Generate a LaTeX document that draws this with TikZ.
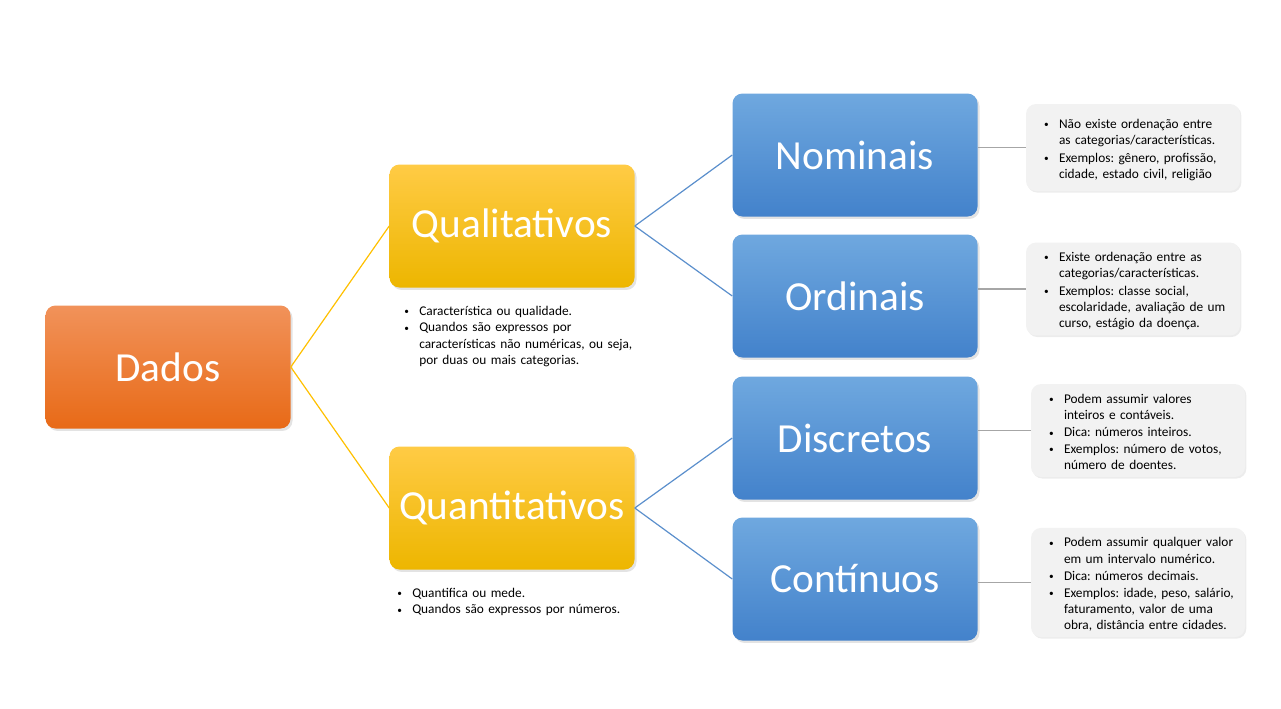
\documentclass[tikz,border=0pt]{standalone}
\usepackage{fontspec}
\setmainfont{Carlito}
\usetikzlibrary{positioning, shadows}
\definecolor{dadostop}{HTML}{F1925A}
\definecolor{dadosbot}{HTML}{E86A17}
\definecolor{tipotop}{HTML}{FFCB45}
\definecolor{tipobot}{HTML}{EDB600}
\definecolor{subtop}{HTML}{6FA8DF}
\definecolor{subbot}{HTML}{4382CB}
\definecolor{yellowline}{HTML}{FFC000}
\definecolor{blueline}{HTML}{5B8FCC}
\definecolor{grayline}{HTML}{A6A6A6}
\definecolor{notefill}{HTML}{F2F2F2}

% bullet item, continuation lines aligned with the text
\newcommand{\bul}[1]{\par\noindent\makebox[11.25pt][l]{\raisebox{0.6pt}{\fontsize{7pt}{7pt}\selectfont\textbullet}}%
    \begin{tabular}[t]{@{}l@{}}#1\end{tabular}}

\begin{document}
\frenchspacing
\begin{tikzpicture}[
    x=0.75pt, y=-0.75pt,
    font=\fontsize{10pt}{12.2pt}\selectfont,
    catbox/.style={
        rounded corners=7.5pt, minimum width=183.75pt, minimum height=92.25pt,
        text=white, font=\fontsize{31pt}{36pt}\selectfont, inner sep=0pt,
        drop shadow={opacity=0.22, shadow xshift=1.5pt, shadow yshift=-1.8pt},
    },
    dadosbox/.style={catbox, top color=dadostop, bottom color=dadosbot},
    tipobox/.style={catbox, top color=tipotop, bottom color=tipobot},
    subbox/.style={catbox, top color=subtop, bottom color=subbot},
    notebox/.style={
        fill=notefill, rounded corners=7.5pt, minimum width=160.5pt,
        text width=133.5pt, inner xsep=13.5pt, inner ysep=2pt, align=left,
        drop shadow={opacity=0.15, shadow xshift=1pt, shadow yshift=-1.2pt},
    },
    plainnote/.style={text width=190pt, inner sep=0pt, align=left},
    yellowlink/.style={draw=yellowline, line width=0.9pt},
    bluelink/.style={draw=blueline, line width=0.9pt},
    graylink/.style={draw=grayline, line width=0.9pt},
]
\useasboundingbox (0,0) rectangle (1281,708);

% Main boxes
\node[dadosbox] (dados) at (168,367) {Dados};
\node[tipobox] (qual) at (512,226) {Qualitativos};
\node[tipobox] (quant) at (512,508) {Quantitativos};
\node[subbox] (nom) at (855,155) {Nominais};
\node[subbox] (ord) at (855,296) {Ordinais};
\node[subbox] (disc) at (855,438) {Discretos};
\node[subbox] (cont) at (855,579) {Contínuos};

% Notes on the right
\node[notebox, minimum height=65.25pt] (nomnote) at (1133,147.5) {%
    \bul{Não existe ordenação entre\\as categorias/características.}
    \bul{Exemplos: gênero, profissão,\\cidade, estado civil, religião}};
\node[notebox, minimum height=64.5pt] (ordnote) at (1133,289) {%
    \bul{Existe ordenação entre as\\categorias/características.}
    \bul{Exemplos: classe social,\\escolaridade, avaliação de um\\curso, estágio da doença.}};
\node[notebox, minimum height=63.75pt] (discnote) at (1138,430.5) {%
    \bul{Podem assumir valores\\inteiros e contáveis.}
    \bul{Dica: números inteiros.}
    \bul{Exemplos: número de votos,\\número de doentes.}};
\node[notebox, minimum height=78.75pt] (contnote) at (1138,582.5) {%
    \bul{Podem assumir qualquer valor\\em um intervalo numérico.}
    \bul{Dica: números decimais.}
    \bul{Exemplos: idade, peso, salário,\\faturamento, valor de uma\\obra, distância entre cidades.}};

% Notes under the yellow boxes
\node[plainnote, anchor=north west] (qualnote) at (404,299) {%
    \bul{Característica ou qualidade.}
    \bul{Quandos são expressos por\\características não numéricas, ou seja,\\por duas ou mais categorias.}};
\node[plainnote, anchor=north west] (quantnote) at (397,581) {%
    \bul{Quantifica ou mede.}
    \bul{Quandos são expressos por números.}};

% Connectors
\draw[yellowlink] (dados.east) -- (qual.west);
\draw[yellowlink] (dados.east) -- (quant.west);
\draw[bluelink] (qual.east) -- (nom.west);
\draw[bluelink] (qual.east) -- (ord.west);
\draw[bluelink] (quant.east) -- (disc.west);
\draw[bluelink] (quant.east) -- (cont.west);
\draw[graylink] (nomnote.west -| nom.east) -- (nomnote.west);
\draw[graylink] (ordnote.west -| ord.east) -- (ordnote.west);
\draw[graylink] (discnote.west -| disc.east) -- (discnote.west);
\draw[graylink] (contnote.west -| cont.east) -- (contnote.west);

\end{tikzpicture}
\end{document}
